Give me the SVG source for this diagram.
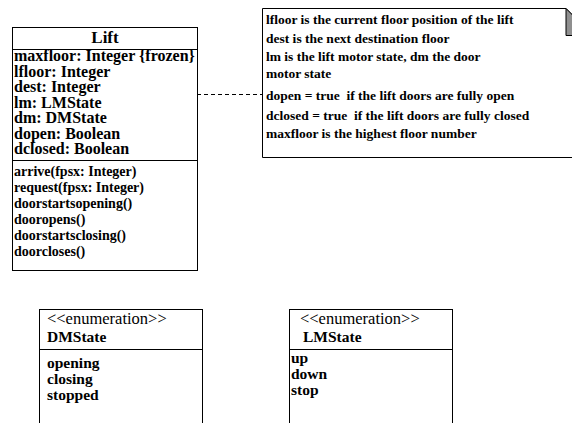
<svg xmlns="http://www.w3.org/2000/svg" width="572" height="423" viewBox="0 0 572 423">
<style>
  .box { fill: #fff; stroke: #000; stroke-width: 1; }
  .ln { stroke: #000; stroke-width: 1; fill: none; }
  .t { font-family: "Liberation Serif", "Times New Roman", serif; fill: #000; }
  .b { font-weight: bold; }
  .attr { font-size: 16px; }
  .op { font-size: 14px; }
  .note { font-size: 13.5px; }
  .en { font-size: 15.5px; }
  .st { font-size: 16.5px; }
  .dash { stroke: #000; stroke-width: 1; stroke-dasharray: 4 3; fill: none; }
</style>
<rect width="572" height="423" fill="#fff"/>
<g id="connectors">
  <line class="dash" x1="197" y1="94.5" x2="262" y2="94.5"/>
</g>
<g id="lift">
  <rect class="box" x="12.5" y="27.5" width="185" height="243"/>
  <line class="ln" x1="12.5" y1="49.5" x2="197.5" y2="49.5"/>
  <line class="ln" x1="12.5" y1="160.5" x2="197.5" y2="160.5"/>
  <text class="t b" x="105" y="43" font-size="17" text-anchor="middle">Lift</text>
  <text class="t b attr" x="14" y="61">maxfloor: Integer {frozen}</text>
  <text class="t b attr" x="14" y="76.5">lfloor: Integer</text>
  <text class="t b attr" x="14" y="92">dest: Integer</text>
  <text class="t b attr" x="14" y="107.5">lm: LMState</text>
  <text class="t b attr" x="14" y="123">dm: DMState</text>
  <text class="t b attr" x="14" y="138.5">dopen: Boolean</text>
  <text class="t b attr" x="14" y="154">dclosed: Boolean</text>
  <text class="t b op" x="14" y="176">arrive(fpsx: Integer)</text>
  <text class="t b op" x="14" y="192">request(fpsx: Integer)</text>
  <text class="t b op" x="14" y="208">doorstartsopening()</text>
  <text class="t b op" x="14" y="224">dooropens()</text>
  <text class="t b op" x="14" y="240">doorstartsclosing()</text>
  <text class="t b op" x="14" y="256">doorcloses()</text>
</g>
<g id="note">
  <path class="box" d="M262.5,8.5 H566 L593,35.5 V157.5 H262.5 Z"/>
  <path d="M566,8.5 V35.5 H593 Z" fill="#8f8f8f" stroke="#000" stroke-width="1"/>
  <text class="t b note" x="266" y="24">lfloor is the current floor position of the lift</text>
  <text class="t b note" x="266" y="43">dest is the next destination floor</text>
  <text class="t b note" x="266" y="61">lm is the lift motor state, dm the door</text>
  <text class="t b note" x="266" y="78">motor state</text>
  <text class="t b note" x="266" y="100">dopen = true&#160; if the lift doors are fully open</text>
  <text class="t b note" x="266" y="120">dclosed = true&#160; if the lift doors are fully closed</text>
  <text class="t b note" x="266" y="138">maxfloor is the highest floor number</text>
</g>
<g id="dmstate">
  <rect class="box" x="39.5" y="309.5" width="163" height="130"/>
  <line class="ln" x1="39.5" y1="349.5" x2="202.5" y2="349.5"/>
  <text class="t st" x="47" y="324">&lt;&lt;enumeration&gt;&gt;</text>
  <text class="t b en" x="47" y="342">DMState</text>
  <text class="t b en" x="47" y="368">opening</text>
  <text class="t b en" x="47" y="384">closing</text>
  <text class="t b en" x="47" y="400">stopped</text>
</g>
<g id="lmstate">
  <rect class="box" x="289.5" y="309.5" width="163" height="130"/>
  <line class="ln" x1="289.5" y1="349.5" x2="452.5" y2="349.5"/>
  <text class="t st" x="300" y="324">&lt;&lt;enumeration&gt;&gt;</text>
  <text class="t b en" x="303" y="341.5">LMState</text>
  <text class="t b en" x="291" y="363">up</text>
  <text class="t b en" x="291" y="379">down</text>
  <text class="t b en" x="291" y="395">stop</text>
</g>
</svg>
